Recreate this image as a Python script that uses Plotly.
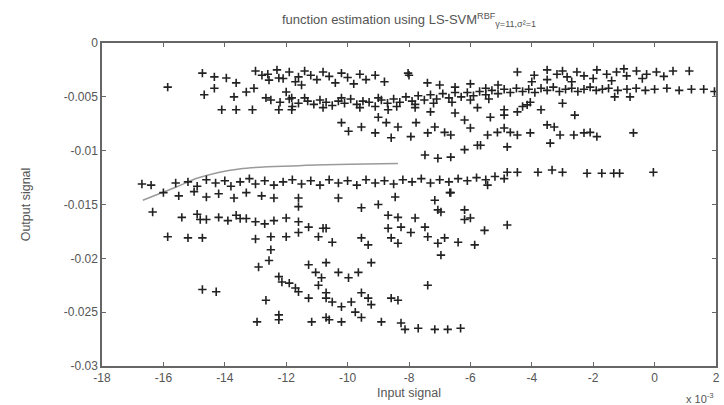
import plotly.graph_objects as go

# Data values in units of 1e-3 (both axes); y is converted to real units for plotting
upper_band = [
    (-14.73, -2.8), (-14.34, -3.15), (-13.95, -3.25), (-13.63, -3.7), (-14.34, -4.2), (-15.86, -4.1),
    (-14.67, -4.8), (-13.7, -5.0), (-13.3, -4.55), (-13.05, -4.2), (-12.79, -3.0), (-12.56, -3.45),
    (-12.66, -5.1), (-12.24, -3.25), (-12.0, -4.55), (-11.82, -5.1), (-11.6, -3.15), (-11.5, -3.9),
    (-13.0, -2.6), (-12.6, -2.9), (-12.3, -2.5), (-12.1, -3.3), (-11.9, -2.7), (-11.7, -3.6),
    (-11.4, -2.6), (-11.2, -3.0), (-11.0, -3.4), (-10.8, -2.7), (-10.6, -3.1), (-10.4, -3.7),
    (-10.2, -2.8), (-10.0, -3.2), (-9.8, -3.8), (-9.6, -2.9), (-9.4, -3.4), (-9.1, -3.0), (-8.8, -3.6),
    (-8.03, -2.8), (-8.0, -3.0), (-7.4, -3.7), (-7.0, -3.9), (-6.5, -4.1), (-6.0, -3.8), (-5.5, -4.2), (-5.1, -3.9),
    (-4.47, -2.7), (-3.92, -3.0), (-3.5, -2.5), (-3.18, -2.9), (-2.85, -3.15), (-2.53, -2.7), (-2.3, -3.05),
    (-1.88, -2.5), (-1.56, -2.9), (-1.24, -2.7), (-0.91, -3.05), (-0.59, -2.6), (-0.26, -2.9), (0.06, -2.7),
    (0.6, -2.6), (1.13, -2.6), (-3.0, -2.6), (-2.0, -3.3), (-1.0, -2.4), (-0.4, -3.3), (-2.7, -3.6),
    (-1.4, -3.5), (0.3, -3.1), (-3.5, -3.4), (-4.0, -3.6),
]

second_band = [
    (-12.5, -5.3), (-12.2, -5.5), (-11.9, -5.2), (-11.6, -5.6), (-11.3, -5.4), (-11.1, -5.7), (-10.9, -5.3),
    (-10.7, -5.5), (-10.5, -5.8), (-10.3, -5.4), (-10.1, -5.6), (-9.9, -5.2), (-9.7, -5.7), (-9.5, -5.4),
    (-9.3, -5.5), (-9.1, -5.9), (-8.9, -5.3), (-8.7, -5.6), (-8.5, -5.2), (-8.3, -5.5), (-8.1, -5.0),
    (-7.9, -5.4), (-7.7, -4.9), (-7.5, -5.3), (-7.3, -4.8), (-7.1, -5.2), (-6.9, -4.7), (-6.7, -5.1),
    (-6.5, -4.6), (-6.3, -5.0), (-6.1, -4.6), (-5.9, -4.9), (-5.7, -4.5), (-5.5, -4.8), (-5.3, -4.4),
    (-5.1, -4.7), (-4.9, -4.3), (-4.7, -4.6), (-4.5, -4.2), (-4.3, -4.5), (-4.1, -4.3), (-3.9, -4.6),
    (-3.7, -4.2), (-3.5, -4.4), (-3.3, -4.1), (-3.1, -4.5), (-2.9, -4.3), (-2.7, -4.2), (-2.5, -4.5),
    (-2.3, -4.3), (-2.1, -4.1), (-1.9, -4.4), (-1.7, -4.3), (-1.5, -4.2), (-1.2, -4.4), (-0.9, -4.3),
    (-0.6, -4.2), (-0.3, -4.4), (0.0, -4.3), (0.4, -4.2), (0.8, -4.4), (1.2, -4.3), (1.6, -4.3), (1.95, -4.5),
    (-11.8, -5.9), (-11.4, -5.1), (-10.8, -6.0), (-10.2, -5.1), (-9.6, -6.0), (-9.0, -5.1), (-8.4, -5.9),
    (-7.8, -5.7), (-7.2, -5.6), (-6.6, -5.5), (-6.0, -5.3), (-5.4, -5.2),
    (-1.3, -5.0), (-0.8, -5.0),
]

middle_scatter = [
    (-14.1, -6.2), (-13.63, -6.2), (-13.1, -6.2), (-12.24, -6.2), (-11.82, -6.2),
    (-10.2, -7.4), (-9.97, -8.2), (-9.55, -7.8), (-9.1, -8.35), (-8.74, -7.4), (-8.58, -8.8), (-8.36, -7.8),
    (-7.94, -8.7), (-7.77, -7.4), (-7.39, -8.35), (-7.16, -7.8), (-6.84, -8.3), (-6.64, -8.55), (-6.19, -7.15),
    (-6.0, -7.9), (-5.67, -9.5), (-5.44, -8.55), (-5.12, -8.3), (-7.48, -10.4), (-7.06, -10.7), (-6.64, -10.6),
    (-6.19, -9.9), (-5.77, -9.5), (-9.0, -6.9), (-8.68, -6.2), (-7.8, -6.0), (-7.3, -6.4), (-6.5, -6.5),
    (-5.77, -6.0), (-5.35, -6.9), (-4.9, -6.2),
    (-4.9, -6.7), (-4.47, -6.4), (-4.15, -5.75), (-4.05, -5.5), (-3.5, -7.6), (-3.27, -7.8), (-3.08, -8.55),
    (-2.63, -8.55), (-2.3, -8.35), (-2.1, -8.3), (-1.88, -8.7), (-2.6, -6.7), (-0.69, -8.35), (-4.9, -7.9),
    (-4.7, -8.3), (-4.47, -8.55), (-4.05, -8.35), (-3.4, -9.3), (-4.8, -9.65), (-4.3, -5.9), (-3.7, -6.2),
    (-3.0, -5.6),
]

lower_band = [
    (-16.7, -13.1), (-16.4, -13.2), (-15.6, -13.0), (-15.2, -12.9), (-14.9, -13.3), (-14.6, -12.7),
    (-14.3, -13.0), (-14.0, -12.8), (-13.8, -13.3), (-13.5, -12.9), (-13.2, -12.6), (-13.0, -13.1),
    (-12.7, -12.8), (-12.4, -13.2), (-12.1, -12.9), (-11.8, -12.7), (-11.5, -13.1), (-11.2, -12.8),
    (-10.9, -13.2), (-10.6, -12.7), (-10.3, -13.0), (-10.0, -12.8), (-9.7, -13.2), (-9.4, -12.7),
    (-9.1, -13.0), (-8.8, -12.8), (-8.5, -13.1), (-8.2, -12.7), (-7.9, -12.9), (-7.6, -12.6), (-7.3, -13.0),
    (-7.0, -12.7), (-6.7, -12.9), (-6.4, -12.6), (-6.1, -12.8), (-5.8, -12.5), (-5.5, -12.7), (-5.2, -12.4),
    (-4.9, -12.6),
    (-4.8, -12.0), (-4.47, -12.0), (-3.8, -12.0), (-3.34, -11.8), (-3.0, -12.0), (-2.2, -12.1),
    (-1.72, -12.1), (-1.33, -12.1), (-1.14, -12.1), (-0.04, -12.0),
    (-16.0, -13.9), (-15.5, -14.2), (-15.0, -13.8), (-14.6, -14.3), (-14.2, -14.0), (-13.7, -14.4),
    (-13.3, -13.9), (-12.8, -14.2), (-12.4, -14.4), (-11.6, -14.4), (-11.6, -15.2),
    (-5.44, -13.2), (-6.67, -13.9),
]

band_16 = [
    (-16.35, -15.7), (-15.4, -16.2), (-14.9, -15.9), (-14.8, -16.4), (-14.6, -16.4), (-14.2, -16.2),
    (-13.9, -16.5), (-13.5, -16.3), (-13.63, -16.0), (-13.3, -16.3), (-13.0, -16.6), (-12.7, -16.8),
    (-12.4, -16.5), (-12.0, -16.25), (-11.6, -16.6), (-11.27, -17.1), (-10.7, -17.2),
    (-15.86, -18.0), (-15.2, -18.1), (-14.73, -18.1), (-13.0, -18.2), (-12.5, -18.0), (-12.0, -18.0),
    (-11.6, -17.6), (-10.95, -18.0),
    (-10.3, -14.4), (-8.45, -14.3), (-7.16, -14.6), (-6.64, -13.9), (-9.55, -15.3), (-9.0, -15.0),
    (-8.68, -16.0), (-8.36, -16.2), (-7.8, -16.25), (-7.48, -17.1), (-6.96, -15.7), (-6.19, -16.4),
    (-6.0, -16.25), (-5.54, -17.4), (-4.8, -16.9), (-10.8, -17.2), (-10.5, -18.5), (-9.55, -18.1),
    (-9.33, -18.75), (-8.58, -18.1), (-8.36, -18.6), (-7.39, -18.0), (-7.06, -18.6), (-6.84, -18.1),
    (-6.4, -18.5), (-5.86, -18.75), (-6.96, -19.7), (-8.68, -17.2), (-8.26, -17.1), (-7.94, -17.6),
    (-7.06, -15.5), (-6.19, -15.5),
]

bottom_cluster = [
    (-9.23, -20.4), (-10.3, -21.3), (-9.65, -21.3), (-12.9, -20.8), (-12.56, -20.2), (-12.24, -21.7),
    (-12.14, -22.2), (-11.9, -22.3), (-11.7, -22.75), (-11.6, -23.1), (-11.27, -20.6), (-11.04, -21.3),
    (-10.95, -22.5), (-10.7, -23.7), (-12.66, -23.9), (-12.24, -25.25), (-11.17, -25.9), (-10.7, -25.5),
    (-14.73, -22.9), (-14.28, -23.1), (-11.27, -23.7), (-10.7, -20.4), (-10.85, -21.8), (-9.97, -21.8),
    (-10.7, -23.2), (-10.5, -24.05), (-10.2, -24.5), (-9.88, -24.05), (-9.55, -23.2), (-9.33, -23.7),
    (-9.23, -24.3), (-9.75, -25.0), (-9.55, -25.5), (-8.58, -23.7), (-8.36, -23.9), (-7.39, -22.5),
    (-10.6, -25.7), (-10.2, -25.9), (-8.9, -25.9), (-8.26, -26.0), (-8.13, -26.6), (-7.7, -26.5),
    (-7.16, -26.6), (-6.74, -26.6), (-6.32, -26.5), (-12.95, -25.9), (-12.24, -25.7), (-12.5, -19.2),
]

fit_x = [-16.67, -15.64, -14.83, -13.53, -11.6, -8.36]
fit_y = [-14.6, -13.45, -12.5, -11.7, -11.4, -11.2]

x_ticks = [-18, -16, -14, -12, -10, -8, -6, -4, -2, 0, 2]
x_ticklabels = ["-18", "-16", "-14", "-12", "-10", "-8", "-6", "-4", "-2", "0", "2"]
y_ticks = [0, -0.005, -0.01, -0.015, -0.02, -0.025, -0.03]
y_ticklabels = ["0", "-0.005", "-0.01", "-0.015", "-0.02", "-0.025", "-0.03"]

clusters = [upper_band, second_band, middle_scatter, lower_band, band_16, bottom_cluster]
px_all = [p[0] for c in clusters for p in c]
py_all = [p[1] / 1000.0 for c in clusters for p in c]

FONT = "Liberation Sans, Arial"
TXT = "#555555"

fig = go.Figure()
fig.add_trace(go.Scatter(
    x=fit_x, y=[v / 1000.0 for v in fit_y], mode="lines",
    line=dict(color="#9a9a9a", width=1.5, shape="spline"), hoverinfo="skip", showlegend=False,
))
fig.add_trace(go.Scatter(
    x=px_all, y=py_all, mode="markers",
    marker=dict(symbol="cross-thin", size=6, color="#222222", line=dict(color="#222222", width=1.6)),
    showlegend=False,
))

axis_common = dict(
    showline=True, linecolor="#666666", linewidth=1.5, mirror="ticks",
    ticks="inside", ticklen=4, tickcolor="#666666", showgrid=False, zeroline=False,
    tickfont=dict(family=FONT, size=12, color=TXT),
)
fig.update_xaxes(range=[-18, 2], tickvals=x_ticks, ticktext=x_ticklabels,
                 title=dict(text="Input signal", font=dict(family=FONT, size=12.5, color=TXT), standoff=4),
                 **axis_common)
fig.update_yaxes(range=[-0.03, 0], tickvals=y_ticks, ticktext=y_ticklabels,
                 title=dict(text="Output signal", font=dict(family=FONT, size=12.5, color=TXT), standoff=30),
                 **axis_common)

fig.update_layout(
    width=724, height=405,
    margin=dict(l=102, r=4, t=43, b=39),
    paper_bgcolor="white", plot_bgcolor="white",
    title=dict(text="function estimation using LS-SVM<sup>RBF</sup><sub>γ=11,σ²=1</sub>",
               x=0.565, xanchor="center", y=0.952, yanchor="middle",
               font=dict(family=FONT, size=13, color=TXT)),
    annotations=[dict(text="x 10<sup>-3</sup>", xref="paper", yref="paper", x=1.0, y=-0.072,
                      xanchor="right", yanchor="top", showarrow=False,
                      font=dict(family=FONT, size=11, color=TXT))],
)

fig.write_html("out.html")
